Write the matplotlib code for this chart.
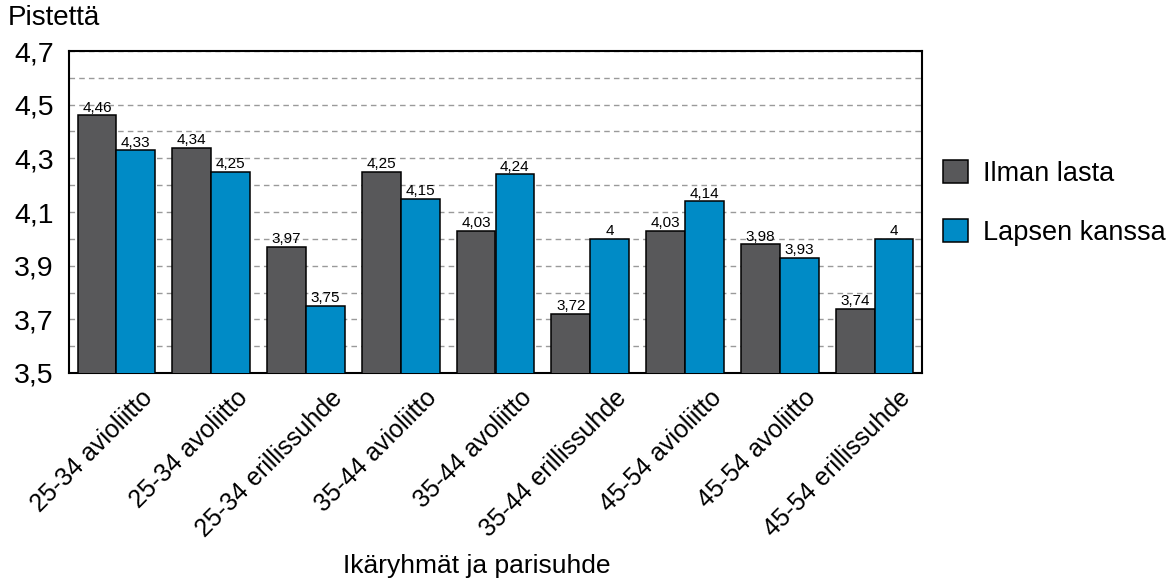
import matplotlib
matplotlib.use("Agg")
import matplotlib.pyplot as plt
import matplotlib.transforms as mtransforms
import numpy as np
from matplotlib.ticker import FixedLocator, MultipleLocator, FuncFormatter

categories = ["25-34 avioliitto", "25-34 avoliitto", "25-34 erillissuhde",
              "35-44 avioliitto", "35-44 avoliitto", "35-44 erillissuhde",
              "45-54 avioliitto", "45-54 avoliitto", "45-54 erillissuhde"]
ilman_lasta = [4.46, 4.34, 3.97, 4.25, 4.03, 3.72, 4.03, 3.98, 3.74]
lapsen_kanssa = [4.33, 4.25, 3.75, 4.15, 4.24, 4.00, 4.14, 3.93, 4.00]
series_names = ["Ilman lasta", "Lapsen kanssa"]
y_ticks = [3.5, 3.7, 3.9, 4.1, 4.3, 4.5, 4.7]

plt.rcParams['font.family'] = ['Liberation Sans', 'DejaVu Sans']

W, H = 1175, 584
fig = plt.figure(figsize=(W / 100, H / 100), dpi=100)
ax = fig.add_axes([69 / W, 1 - 373 / H, (922 - 69) / W, (373 - 51) / H])

x = np.arange(len(categories))
w = 0.41
gray = "#58585a"
blue = "#008bc6"


def fmt(v):
    s = f"{v:.2f}".rstrip("0").rstrip(".")
    return s.replace(".", ",")


b1 = ax.bar(x - w / 2, ilman_lasta, w, color=gray, edgecolor="black", linewidth=1.1,
            label=series_names[0], zorder=3)
b2 = ax.bar(x + w / 2, lapsen_kanssa, w, color=blue, edgecolor="black", linewidth=1.1,
            label=series_names[1], zorder=3)

for bars, vals in ((b1, ilman_lasta), (b2, lapsen_kanssa)):
    for r, v in zip(bars, vals):
        ax.annotate(fmt(v), (r.get_x() + r.get_width() / 2, v), xytext=(0, 0.5),
                    textcoords="offset points", ha="center", va="bottom",
                    fontsize=11, zorder=4)

ax.set_xlim(-0.5, len(categories) - 0.5)
ax.set_ylim(y_ticks[0], y_ticks[-1])
ax.yaxis.set_major_locator(FixedLocator(y_ticks))
ax.yaxis.set_minor_locator(MultipleLocator(0.1))
ax.yaxis.set_major_formatter(FuncFormatter(lambda v, p: f"{v:.1f}".replace(".", ",")))
ax.grid(axis="y", which="both", linestyle=(0, (4, 3)), color="#9a9a9a", linewidth=1.0, zorder=0)
ax.tick_params(axis="y", which="both", length=0, labelsize=20.5, pad=11)

ax.set_xticks(x)
ax.set_xticklabels(categories, rotation=45, ha="right", va="top",
                   rotation_mode="anchor", fontsize=18)
ax.tick_params(axis="x", length=0, pad=0)
shift = mtransforms.ScaledTranslation(24 / 100, -13 / 100, fig.dpi_scale_trans)
for lbl in ax.get_xticklabels():
    lbl.set_transform(lbl.get_transform() + shift)

for s in ax.spines.values():
    s.set_linewidth(1.5)

fig.text(477 / W, 1 - 566 / H, "Ikäryhmät ja parisuhde", fontsize=19, ha="center", va="center")
fig.text(8 / W, 1 - 18 / H, "Pistettä", fontsize=20, va="center", ha="left")

fig.legend(handles=[b1, b2], labels=series_names, loc="upper left",
           bbox_to_anchor=(943 / W, 1 - 160 / H), frameon=False, fontsize=19.5,
           handlelength=0.93, handleheight=0.93, labelspacing=1.2, handletextpad=0.55,
           borderpad=0, borderaxespad=0)

fig.savefig("out.png", dpi=100)
